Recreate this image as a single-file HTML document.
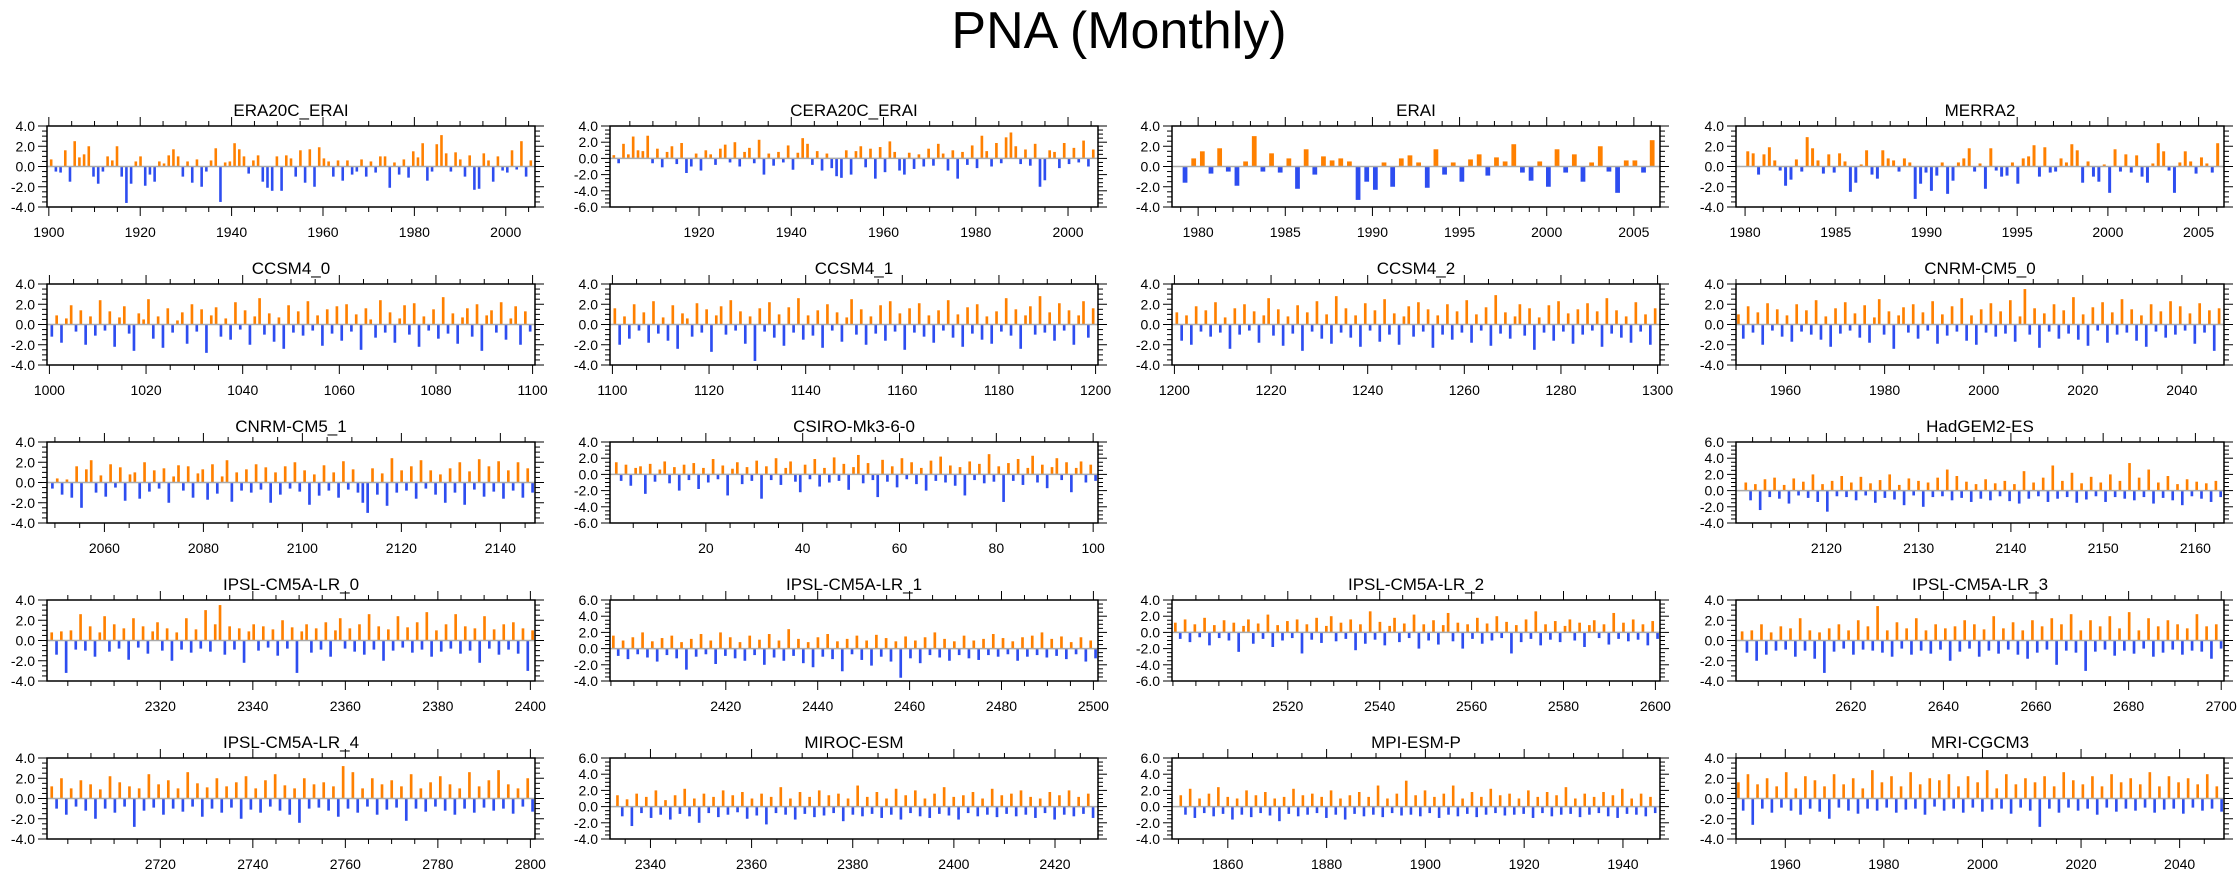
<!DOCTYPE html>
<html><head><meta charset="utf-8"><title>PNA (Monthly)</title>
<style>
html,body{margin:0;padding:0;background:#fff;}
svg{display:block;font-family:"Liberation Sans",sans-serif;}
</style></head>
<body>
<svg id="chart" width="2238" height="876" viewBox="0 0 2238 876" xmlns="http://www.w3.org/2000/svg">
<text x="1119" y="48" text-anchor="middle" font-size="52" fill="#000">PNA (Monthly)</text>
</svg>
<script>
// ---- data arrays (estimated PNA index values) ----
const era20cValues = [0.7,-0.5,-0.6,1.6,-1.5,2.5,0.9,1.2,2.0,-1.0,-1.7,-0.5,1.0,0.6,2.0,-1.0,-3.6,-1.7,0.5,1.0,-1.9,-0.8,-1.5,0.5,0.3,1.1,1.7,1.0,-1.0,0.5,-1.6,0.7,-2.0,-0.5,0.6,1.8,-3.5,0.4,0.5,2.3,1.7,1.0,-0.7,0.6,1.1,-1.5,-2.1,-2.4,1.0,-2.4,1.1,0.8,-1.0,1.6,-1.6,1.7,-2.0,1.9,0.8,0.5,-1.0,0.6,-1.4,0.6,-0.8,-0.5,0.7,-1.0,0.5,-0.6,1.0,1.0,-2.1,0.4,-0.8,0.7,-1.1,1.5,0.9,2.3,-1.4,-0.5,2.2,3.1,1.3,-0.5,1.4,0.7,-1.0,1.1,-2.3,-2.2,1.3,0.6,-1.5,1.0,-0.4,-0.6,1.6,-0.3,2.5,-1.0,0.6];
const cera20cValues = [0.4,-0.6,1.8,0.5,2.7,1.0,0.9,2.8,-0.6,1.2,-1.1,0.8,1.5,-0.7,1.9,-1.8,-1.0,0.6,-1.5,1.0,0.5,-0.8,1.2,1.7,-0.5,2.0,-1.0,0.8,1.3,-0.6,2.3,-2.0,0.6,-0.9,0.8,-0.5,1.6,-1.4,0.7,2.5,1.8,-0.8,0.9,-1.5,0.6,-1.2,-2.2,-2.4,1.0,-2.0,0.9,1.5,-1.1,1.2,-2.5,1.4,-1.7,2.1,0.8,-1.5,-2.0,0.7,-1.3,0.5,-1.0,1.2,-0.9,1.8,0.6,-1.5,1.0,-2.5,0.8,-0.8,1.6,-1.2,2.8,0.9,-1.0,1.9,-0.6,2.6,3.2,1.5,-0.7,1.1,-0.9,1.8,-3.5,-2.7,1.0,0.8,-1.2,1.9,-0.7,1.3,-0.5,2.2,-1.0,1.1];
const eraiValues = [-1.6,0.8,1.5,-0.7,1.8,-0.5,-1.9,0.5,3.0,-0.5,1.3,-0.6,0.8,-2.2,1.7,-0.8,1.0,0.6,0.8,0.5,-3.3,-1.5,-2.3,0.4,-2.0,0.8,1.1,0.4,-2.1,1.7,-0.8,0.4,-1.5,0.7,1.2,-0.9,0.9,0.5,2.2,-0.6,-1.4,0.5,-2.0,1.7,-0.6,1.2,-1.5,0.4,2.0,-0.5,-2.6,0.6,0.6,-0.6,2.6];
const merra2Values = [1.5,1.3,-0.8,1.2,1.9,0.6,-0.4,-1.9,-1.3,0.7,-0.5,2.9,1.8,0.6,-0.7,1.2,-0.6,1.3,0.5,-2.5,-1.6,0.2,1.6,-0.8,-1.2,1.6,0.8,0.6,-0.5,0.8,0.4,-3.2,-1.7,-0.6,-2.4,-0.9,0.4,-2.7,-1.4,0.4,0.8,1.8,-0.5,0.3,-2.2,1.8,-0.4,-1.0,-0.9,0.4,-1.7,0.8,1.0,2.1,-1.0,1.9,-0.6,-0.5,0.8,0.4,2.2,1.6,-1.6,0.5,-1.0,-1.5,0.2,-2.6,1.7,-0.5,1.2,-0.6,1.1,-1.0,-1.6,0.3,2.3,1.5,-0.4,-2.6,0.4,1.5,0.5,-0.7,0.9,0.3,-0.6,2.3];
const ccsm40Values = [-1.2,0.9,-1.8,0.6,1.9,-0.7,1.4,-2.0,0.8,-1.1,2.4,-0.6,1.3,-2.2,0.7,1.8,-0.9,-2.6,1.1,0.5,2.5,-1.4,0.8,-2.3,1.6,-0.8,0.4,1.2,-1.9,2.0,-0.7,1.5,-2.8,0.9,1.7,-1.2,0.6,-1.5,2.2,-0.5,1.4,-2.0,0.8,2.6,-1.0,1.1,-1.7,0.7,-2.4,1.9,-0.8,1.3,-1.1,2.3,-0.6,0.9,-2.1,1.5,-0.9,1.8,-1.6,2.0,-0.7,1.0,-2.5,1.6,0.5,-1.3,2.4,-0.8,1.2,-1.8,0.6,1.9,-1.0,2.1,-2.2,0.8,-0.6,1.5,-1.4,2.7,-0.9,1.1,-1.9,0.7,1.6,-1.2,2.0,-2.6,0.9,1.4,-0.8,2.2,-1.5,0.6,1.8,-2.0,1.3,-0.7];
const ccsm41Values = [1.6,-2.0,0.8,-1.4,2.0,-0.6,1.2,-1.8,2.3,-0.9,0.7,-1.6,1.9,-2.4,1.1,0.6,-1.2,2.1,-0.8,1.5,-2.7,0.9,1.8,-1.0,2.4,-0.6,1.3,-1.9,0.8,-3.6,1.6,-0.7,2.2,-1.3,1.0,-2.1,1.7,-0.8,2.6,-1.5,0.9,-1.1,1.4,-2.3,2.0,-0.6,1.2,-1.7,0.7,2.5,-1.0,1.5,-2.0,0.8,-0.9,1.9,-1.6,2.3,-0.7,1.1,-2.5,1.6,-0.8,2.1,-1.2,0.9,-1.8,1.4,-0.6,2.4,-1.3,1.0,-2.2,1.7,-0.9,2.0,-1.5,0.8,-1.9,1.3,-0.7,2.6,-1.1,1.5,-2.4,0.9,1.8,-1.0,2.8,-0.8,1.2,-1.6,2.1,-0.6,1.4,-2.0,0.9,2.3,-1.3,1.6];
const ccsm42Values = [1.2,-1.6,0.9,-2.0,1.8,-0.7,1.4,-1.2,2.2,-0.8,0.7,-2.4,1.6,-1.0,2.0,-0.6,1.3,-1.8,0.9,2.6,-1.1,1.5,-2.1,0.8,-0.9,1.9,-2.6,1.2,-0.7,2.3,-1.4,1.0,-1.9,2.8,-0.8,1.6,-1.3,0.9,-2.2,2.1,-0.6,1.4,-1.7,2.5,-1.0,1.1,-2.0,0.8,1.8,-1.2,2.2,-0.7,1.5,-2.3,0.9,-1.0,2.0,-1.5,1.3,-0.8,2.4,-1.8,1.0,-0.6,1.7,-2.1,2.9,-0.9,1.2,-1.4,0.8,2.0,-1.1,1.6,-2.5,0.7,-0.8,1.9,-1.6,2.3,-0.7,1.1,-1.9,1.5,-1.0,2.1,-0.6,1.3,-2.2,2.6,-0.9,1.4,-1.3,0.8,-1.8,2.2,-0.7,1.0,-2.0,1.6];
const cnrm0Values = [1.0,-1.4,1.8,-0.8,1.2,-2.0,2.1,-0.6,1.5,-1.2,0.9,-1.7,2.0,-0.7,1.4,-1.0,2.4,-1.5,0.8,-2.2,1.6,-0.9,2.2,-0.6,1.1,-1.3,1.9,-1.8,0.7,2.5,-1.0,1.3,-2.4,0.9,1.7,-0.8,2.0,-1.4,1.2,-0.6,2.3,-1.9,1.0,-1.1,1.8,-0.7,2.6,-1.6,0.9,-2.0,1.5,-0.8,2.1,-1.2,1.3,-0.9,2.4,-1.7,0.8,3.5,-1.0,1.6,-2.3,1.1,-0.7,2.0,-1.4,1.4,-0.9,2.7,-1.5,1.0,-2.1,1.7,-0.6,2.2,-1.8,1.2,-1.0,2.5,-0.8,1.5,-1.6,0.9,-2.2,2.0,-0.7,1.3,-1.3,2.3,-1.0,1.8,-0.6,1.1,-1.9,2.1,-0.8,1.4,-2.6,1.6];
const cnrm1Values = [-0.6,0.4,-1.2,0.3,-1.5,1.6,-2.5,1.3,2.2,-1.0,0.7,-1.4,1.8,-0.5,1.5,-1.8,0.8,1.0,-1.6,2.0,-0.9,1.2,-0.6,1.4,-2.0,0.6,1.7,-0.8,1.6,-1.5,0.9,1.3,-1.7,1.8,-1.1,0.6,2.2,-1.9,1.0,-0.8,1.3,-1.0,1.8,-0.7,1.5,-2.0,1.0,-1.2,1.6,-0.6,2.0,-0.9,1.2,-2.2,0.8,-1.3,1.7,-0.8,1.0,-1.5,2.1,-0.7,1.3,-1.0,-2.0,-3.0,1.4,-1.2,0.9,-2.3,2.4,-1.0,1.2,-0.8,1.6,-1.6,2.2,-0.6,1.2,-1.2,0.8,-2.0,1.4,-1.0,2.0,-2.2,1.1,-0.7,2.3,-1.4,1.6,-0.9,2.1,-1.6,1.2,-0.8,2.0,-1.5,1.4,-1.0];
const csiroValues = [1.5,-0.8,1.2,-1.4,0.8,1.0,-2.4,1.3,-0.9,0.6,1.6,-1.1,0.9,-2.0,1.2,-0.7,1.4,-1.8,0.8,-1.0,1.9,-0.6,1.1,-2.6,0.7,1.5,-1.2,0.9,-0.8,1.7,-3.0,1.0,-0.7,2.0,-1.3,0.8,1.6,-0.9,-2.2,1.2,-0.6,1.9,-1.5,0.8,-1.0,2.1,-0.8,1.3,-1.9,0.9,2.4,-1.1,1.4,-0.7,-2.8,1.8,-0.9,1.0,-1.6,2.0,-0.6,1.5,-1.2,0.8,-2.0,1.7,-0.8,2.2,-1.0,1.1,-1.4,0.9,-2.6,1.6,-0.7,1.3,-1.1,2.5,-0.9,1.0,-3.4,1.4,-0.8,1.9,-1.3,0.8,2.3,-1.0,1.2,-1.7,0.9,2.0,-0.7,1.5,-2.2,0.8,1.6,-1.0,1.2,-0.8];
const hadgemValues = [1.0,-1.2,0.8,-2.4,1.4,-0.8,1.6,-1.0,0.7,-1.6,1.5,-0.6,1.1,-0.9,2.0,-1.4,0.8,-2.6,1.2,-0.7,1.8,-0.8,1.0,-1.2,1.7,-0.6,0.9,-1.5,1.3,-0.9,2.0,-1.1,0.7,-1.8,1.5,-0.6,1.2,-2.0,1.0,-0.8,1.6,-0.7,2.6,-1.2,1.8,-0.9,1.1,-1.4,0.8,-1.0,1.4,-1.2,0.9,-0.7,1.2,-1.3,0.8,-1.6,2.4,-1.0,1.0,-0.7,1.6,-1.4,3.1,-1.0,1.2,-0.8,2.2,-1.5,0.9,-1.1,1.7,-0.7,1.0,-1.4,2.0,-0.8,1.2,-1.0,3.4,-1.2,1.6,-0.8,2.6,-1.6,1.0,-0.9,1.8,-1.2,0.8,-1.8,1.4,-0.7,1.1,-1.0,0.9,-1.4,1.2,-0.8];
const ipsl0Values = [0.8,-1.4,0.9,-3.2,1.0,-0.9,2.6,-1.0,1.4,-1.6,0.8,2.4,-1.1,1.6,-0.8,1.2,-1.9,2.2,-0.7,1.4,-1.3,0.9,1.8,-1.0,1.2,-2.0,0.8,-0.9,2.2,-1.2,1.1,-0.8,3.0,-1.1,1.6,3.5,-1.4,1.4,-0.9,1.2,-2.2,0.9,1.6,-1.0,1.4,-0.7,1.1,-1.5,2.0,-0.8,1.3,-3.2,0.9,1.6,-1.2,1.2,-0.9,1.8,-1.6,1.0,2.2,-0.8,1.2,-1.1,1.6,-1.4,2.6,-0.9,1.4,-2.0,1.1,-1.0,2.4,-0.7,1.3,-1.2,1.8,-0.9,2.8,-1.6,1.0,-1.1,1.6,-0.8,2.6,-1.3,1.4,-1.0,1.2,-2.2,2.4,-0.8,1.1,-1.4,1.6,-0.9,1.8,-1.3,1.2,-3.0,1.0];
const ipsl1Values = [1.6,-0.9,1.0,-1.3,1.4,-0.7,2.0,-1.1,0.9,-1.6,1.3,-0.8,1.6,-1.2,0.8,-2.6,1.2,-1.0,1.8,-0.7,1.0,-1.9,2.0,-0.9,1.4,-1.2,0.8,-1.5,1.6,-0.8,1.1,-2.0,1.8,-1.1,1.0,-1.5,2.4,-0.9,1.2,-1.8,0.8,-2.3,1.4,-1.0,1.8,-1.3,0.9,-2.8,1.2,-0.7,1.6,-1.4,1.0,-2.1,1.7,-1.0,1.3,-1.6,0.9,-3.6,1.5,-1.2,1.0,-1.8,1.4,-0.8,2.0,-1.1,1.2,-1.5,0.9,-0.8,1.6,-1.2,1.0,-1.4,1.2,-0.8,1.8,-1.0,1.3,-0.7,0.9,-1.5,1.4,-1.0,1.6,-0.8,2.0,-1.1,1.2,-0.9,1.5,-1.3,0.8,-0.7,1.4,-1.6,1.0,-1.2];
const ipsl2Values = [1.2,-0.8,1.6,-1.2,1.0,-0.6,1.8,-1.6,0.9,-0.7,1.5,-1.0,1.2,-2.4,0.8,1.6,-1.4,1.1,-0.8,2.2,-1.8,0.9,-1.0,1.4,-0.7,1.6,-2.6,1.0,-0.9,1.8,-1.3,0.8,2.0,-1.1,1.2,-0.8,1.6,-2.2,1.0,-1.4,2.6,-0.9,1.3,-1.6,0.8,1.8,-1.2,1.1,-0.7,2.2,-2.0,1.0,-1.0,1.5,-1.5,0.9,2.4,-1.1,1.2,-2.0,1.0,-0.8,1.8,-1.4,1.1,-1.0,2.0,-0.7,1.3,-2.6,0.9,-1.2,1.6,-0.8,2.6,-1.6,1.0,-0.9,1.4,-1.2,0.8,1.6,-1.0,1.2,-1.8,0.9,1.5,-0.7,1.0,-1.5,2.4,-0.8,1.2,-1.1,1.6,-0.9,1.0,-1.6,1.4,-0.8];
const ipsl3Values = [0.9,-1.2,1.0,-2.0,1.6,-1.4,0.8,-1.0,1.4,-0.9,1.2,-1.6,2.2,-1.0,1.0,-1.8,0.8,-3.2,1.2,-1.1,1.6,-0.8,1.0,-1.4,2.0,-0.9,1.4,-1.0,3.4,-1.2,1.0,-1.6,1.8,-0.8,1.2,-1.4,2.2,-1.0,1.0,-1.3,1.6,-0.9,1.2,-2.0,1.4,-1.1,2.0,-0.8,1.6,-1.6,1.1,-1.0,2.4,-1.3,1.2,-0.9,1.8,-1.4,1.0,-1.8,2.0,-1.2,1.4,-0.9,2.2,-2.4,1.6,-1.0,2.6,-1.2,1.0,-3.0,2.0,-1.1,1.4,-0.9,2.4,-1.5,1.2,-1.0,2.8,-1.3,1.0,-0.8,2.2,-1.6,1.4,-1.2,2.0,-0.9,1.6,-1.4,1.2,-1.0,2.6,-1.1,1.4,-1.8,1.6,-0.8];
const ipsl4Values = [1.2,-1.0,2.0,-1.6,1.0,-0.8,1.8,-1.2,1.4,-2.0,0.9,-1.0,2.2,-1.4,1.6,-0.8,1.2,-2.8,1.0,-1.2,2.4,-0.9,1.4,-1.6,1.8,-1.0,1.0,-1.3,2.6,-0.8,1.5,-1.8,1.1,-1.0,2.0,-1.4,1.2,-0.9,1.6,-2.0,2.2,-1.1,1.0,-1.4,1.8,-0.8,2.4,-1.2,1.3,-1.6,1.0,-2.4,2.0,-1.0,1.4,-0.9,1.6,-1.2,1.2,-1.8,3.2,-1.0,2.6,-1.4,1.0,-0.8,2.0,-1.6,1.4,-1.1,1.8,-0.9,1.2,-2.2,2.4,-1.0,1.0,-1.3,1.6,-0.8,2.2,-1.2,1.4,-1.6,1.0,-1.0,2.6,-1.4,1.2,-0.9,1.8,-1.2,2.8,-1.0,1.4,-1.5,1.0,-0.8,2.0,-1.3];
const mirocValues = [1.4,-1.2,0.9,-2.4,1.6,-0.8,1.2,-1.4,2.0,-1.0,0.8,-1.6,1.4,-0.9,2.2,-1.2,1.0,-2.0,1.6,-0.8,1.2,-1.3,2.0,-1.0,1.4,-0.7,1.8,-1.5,1.0,-1.1,1.6,-2.2,1.2,-0.8,2.4,-1.0,1.0,-1.6,1.8,-0.9,1.2,-1.3,2.0,-1.1,1.4,-0.8,1.6,-1.8,1.0,-1.0,2.6,-1.2,1.2,-0.9,1.8,-1.4,1.0,-1.0,2.2,-1.6,1.4,-0.8,2.0,-1.2,1.0,-1.4,1.6,-0.9,2.4,-1.1,1.2,-1.6,1.4,-0.8,1.8,-1.2,1.0,-1.0,2.2,-1.3,1.4,-0.9,1.6,-1.2,2.0,-1.0,1.2,-1.4,1.0,-0.8,1.8,-1.6,1.4,-1.0,2.0,-1.2,1.2,-0.9,1.6,-1.4];
const mpiValues = [1.4,-1.0,2.2,-1.4,1.0,-0.8,1.6,-1.2,2.4,-0.9,1.2,-1.6,1.0,-1.0,2.0,-1.3,1.4,-0.8,1.8,-1.1,1.0,-1.8,1.2,-0.9,2.2,-1.2,1.4,-1.0,1.6,-0.8,1.2,-1.4,2.0,-1.0,1.0,-1.6,1.4,-0.9,1.8,-1.2,1.2,-1.0,2.6,-1.3,1.0,-0.8,1.6,-1.1,3.2,-1.0,1.4,-1.2,2.0,-0.8,1.2,-1.4,1.6,-1.0,2.6,-1.2,1.0,-0.9,1.8,-1.3,1.2,-1.0,2.2,-0.8,1.4,-1.1,1.6,-1.0,1.0,-0.9,2.0,-1.4,1.2,-0.8,1.8,-1.2,1.4,-1.0,2.4,-0.9,1.0,-1.3,1.6,-1.0,1.2,-0.8,1.8,-1.2,1.4,-1.4,2.2,-0.9,1.0,-1.0,1.6,-1.2,1.2,-0.8];
const mriValues = [1.6,-1.2,2.4,-2.6,1.4,-1.0,2.0,-1.4,1.2,-0.9,2.6,-1.2,1.0,-1.6,2.2,-1.0,1.8,-1.3,1.2,-2.0,2.4,-0.9,1.4,-1.2,2.0,-1.5,1.0,-1.0,2.8,-1.2,1.6,-0.9,2.2,-1.4,1.2,-1.1,2.6,-1.0,1.4,-1.6,2.0,-0.8,1.8,-1.2,2.4,-1.0,1.2,-1.4,2.2,-0.9,1.6,-1.3,2.8,-1.1,1.0,-1.0,2.4,-1.5,1.4,-0.9,2.0,-1.2,1.6,-2.8,2.2,-1.0,1.2,-1.4,2.6,-0.9,1.8,-1.2,1.4,-1.0,2.2,-1.6,1.2,-0.9,2.4,-1.3,1.6,-1.0,2.0,-1.2,1.4,-0.9,2.6,-1.4,1.2,-1.1,2.2,-1.0,1.6,-1.5,2.0,-0.9,1.4,-1.2,2.4,-1.0,1.2,-1.3];

// panel names / axis domains (data units, not pixels)
const panelTitles = ["ERA20C_ERAI","CERA20C_ERAI","ERAI","MERRA2","CCSM4_0","CCSM4_1","CCSM4_2","CNRM-CM5_0","CNRM-CM5_1","CSIRO-Mk3-6-0",null,"HadGEM2-ES","IPSL-CM5A-LR_0","IPSL-CM5A-LR_1","IPSL-CM5A-LR_2","IPSL-CM5A-LR_3","IPSL-CM5A-LR_4","MIROC-ESM","MPI-ESM-P","MRI-CGCM3"];
const panelSeries = [era20cValues,cera20cValues,eraiValues,merra2Values,ccsm40Values,ccsm41Values,ccsm42Values,cnrm0Values,cnrm1Values,csiroValues,null,hadgemValues,ipsl0Values,ipsl1Values,ipsl2Values,ipsl3Values,ipsl4Values,mirocValues,mpiValues,mriValues];
const xDomains = [[1899.6,2006.4],[1900.7,2006.5],[1978.5,2006.5],[1979.5,2006.4],[999.5,1100.5],[1099.5,1200.5],[1199.5,1300.5],[1950,2048.5],[2048.4,2147],[0.2,101],null,[2110.2,2163.1],[2295.5,2401],[2394.8,2501],[2494.8,2601],[2595.2,2700.6],[2695.5,2801],[2332,2428.5],[1848.7,1947.5],[1950,2049]];
const dataSpans = [[1900,2006],[1901,2006],[1979,2006.3],[1980,2006.2],[1000,1100],[1100,1200],[1200,1300],[1950,2048],[2049,2147],[1,101],null,[2111,2163],[2296,2401],[2395,2501],[2495,2601],[2596,2700.5],[2696,2801],[2333,2428],[1850,1947],[1950,2049]];
const yDomains = [[-4,4],[-6,4],[-4,4],[-4,4],[-4,4],[-4,4],[-4,4],[-4,4],[-4,4],[-6,4],null,[-4,6],[-4,4],[-4,6],[-6,4],[-4,4],[-4,4],[-4,6],[-4,6],[-4,4]];
const xTickLabels = [[1900,1920,1940,1960,1980,2000],[1920,1940,1960,1980,2000],[1980,1985,1990,1995,2000,2005],[1980,1985,1990,1995,2000,2005],[1000,1020,1040,1060,1080,1100],[1100,1120,1140,1160,1180,1200],[1200,1220,1240,1260,1280,1300],[1960,1980,2000,2020,2040],[2060,2080,2100,2120,2140],[20,40,60,80,100],null,[2120,2130,2140,2150,2160],[2320,2340,2360,2380,2400],[2420,2440,2460,2480,2500],[2520,2540,2560,2580,2600],[2620,2640,2660,2680,2700],[2720,2740,2760,2780,2800],[2340,2360,2380,2400,2420],[1860,1880,1900,1920,1940],[1960,1980,2000,2020,2040]];
const xMinorSteps = [5,5,1,1,5,5,5,5,5,5,null,2,5,5,5,5,5,5,5,5];

// ---- layout ----
const NS = "http://www.w3.org/2000/svg";
const svg = document.getElementById("chart");
const colLeft = [47,610,1172,1736], rowTop = [126,284,442,600,758];
const PW = 488, PH = 81;
function mk(tag, attrs, parent){const e=document.createElementNS(NS,tag);for(const k in attrs)e.setAttribute(k,attrs[k]);(parent||svg).appendChild(e);return e;}
function slug(s){return s.toLowerCase().replace(/[^a-z0-9]+/g,'-').replace(/-+$/,'');}

panelTitles.forEach((title, p) => {
  if (!title) return;
  const L = colLeft[p%4], T = rowTop[Math.floor(p/4)], R = L+PW, B = T+PH;
  const [x0,x1] = xDomains[p], [y0,y1] = yDomains[p];
  const xs = v => L + (v-x0)/(x1-x0)*PW;
  const ys = v => B - (v-y0)/(y1-y0)*PH;
  const g = mk("g", {});
  
  
  const t = mk("text", {x:(L+R)/2, y:T-10, "text-anchor":"middle", "font-size":"17", fill:"#000"}, g);
  t.textContent = title;
  
  
  // bars
  const vals = panelSeries[p], [d0,d1] = dataSpans[p], n = vals.length;
  const slot = (xs(d1)-xs(d0))/n, bw = Math.max(1.2, slot*0.55);
  const bars = mk("g", {}, g);
  
  
  vals.forEach((v,i) => {
    const cx = xs(d0 + (i+0.5)*(d1-d0)/n);
    const ya = ys(Math.max(v,0)), yb = ys(Math.min(v,0));
    const r = mk("rect", {x:cx-bw/2, y:ya, width:bw, height:Math.max(0.5,yb-ya), fill: v>=0 ? "#ff8000" : "#2d4df0"}, bars);
    
    
  });
  // zero line
  const z = mk("line", {x1:L, x2:R, y1:ys(0), y2:ys(0), stroke:"#aaa", "stroke-width":"1.5"}, g);
  
  
  // frame
  const fr = mk("rect", {x:L, y:T, width:PW, height:PH, fill:"none", stroke:"#000", "stroke-width":"1.5"}, g);
  
  
  // y ticks
  for (let v=y0; v<=y1+1e-9; v+=0.5) {
    const yy = ys(v), major = Math.abs(v/2 - Math.round(v/2))<1e-9, len = major?9:5;
    mk("line", {x1:L-len, x2:L, y1:yy, y2:yy, stroke:"#000", "stroke-width":"1"}, g);
    mk("line", {x1:R, x2:R+len, y1:yy, y2:yy, stroke:"#000", "stroke-width":"1"}, g);
    if (major) {
      const lb = mk("text", {x:L-12, y:yy+5, "text-anchor":"end", "font-size":"14", fill:"#000"}, g);
      lb.textContent = v.toFixed(1);
      
      
    }
  }
  // x ticks
  const step = xMinorSteps[p], labels = xTickLabels[p];
  const startM = Math.ceil(x0/step)*step;
  for (let v=startM; v<=x1; v+=step) {
    const xx = xs(v), major = labels.includes(v), len = major?9:5;
    mk("line", {x1:xx, x2:xx, y1:T-len, y2:T, stroke:"#000", "stroke-width":"1"}, g);
    mk("line", {x1:xx, x2:xx, y1:B, y2:B+len, stroke:"#000", "stroke-width":"1"}, g);
  }
  labels.forEach(v => {
    const lb = mk("text", {x:xs(v), y:B+30, "text-anchor":"middle", "font-size":"14", fill:"#000"}, g);
    lb.textContent = String(v);
    
    
  });
});
</script>
</body></html>
